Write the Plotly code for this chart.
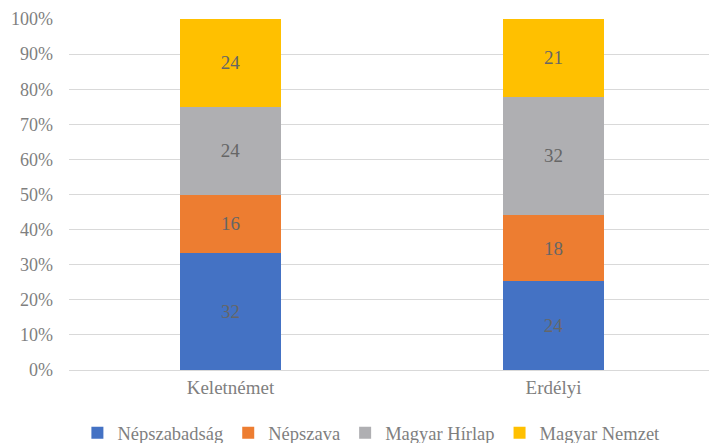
import plotly.graph_objects as go

categories = ["Keletnémet", "Erdélyi"]
nepszabadsag = [32, 24]
nepszava = [16, 18]
magyar_hirlap = [24, 32]
magyar_nemzet = [24, 21]

series = [
    ("Népszabadság", nepszabadsag, "#4472C4"),
    ("Népszava", nepszava, "#ED7D31"),
    ("Magyar Hírlap", magyar_hirlap, "#AFAFB2"),
    ("Magyar Nemzet", magyar_nemzet, "#FFC000"),
]

FONT = "Liberation Serif, Times New Roman, serif"
TXT = "#7F7F7F"

fig = go.Figure()
for name, vals, color in series:
    fig.add_trace(go.Bar(
        x=categories,
        y=vals,
        name=name,
        marker=dict(color=color, line=dict(width=0)),
        text=vals,
        texttemplate="%{text}",
        textposition="inside",
        insidetextanchor="middle",
        textfont=dict(family=FONT, size=19, color="#666666"),
        hoverinfo="skip",
    ))

# page body has an 8px margin, so shrink the figure and the left/top margins by 8
fig.update_layout(
    barmode="stack",
    barnorm="percent",
    bargap=0.685,
    width=709,
    height=435,
    margin=dict(l=61, r=2, t=11, b=73, autoexpand=False),
    plot_bgcolor="white",
    paper_bgcolor="white",
    font=dict(family=FONT, size=19, color=TXT),
    xaxis=dict(
        showgrid=False,
        showline=False,
        ticks="",
        automargin=False,
        ticklabelstandoff=4,
        tickfont=dict(family=FONT, size=19, color=TXT),
    ),
    yaxis=dict(
        range=[0, 100],
        dtick=10,
        ticksuffix="%",
        showgrid=True,
        gridcolor="#D9D9D9",
        gridwidth=1.3,
        zeroline=True,
        zerolinecolor="#D9D9D9",
        zerolinewidth=1.3,
        ticks="",
        automargin=False,
        ticklabelstandoff=15,
        tickfont=dict(family=FONT, size=18, color=TXT),
    ),
    legend=dict(
        orientation="h",
        x=0.013,
        xanchor="left",
        y=-0.18,
        yanchor="middle",
        font=dict(family=FONT, size=18.5, color=TXT),
        itemwidth=30,
        traceorder="normal",
    ),
    showlegend=True,
)

fig.write_html("out.html")
